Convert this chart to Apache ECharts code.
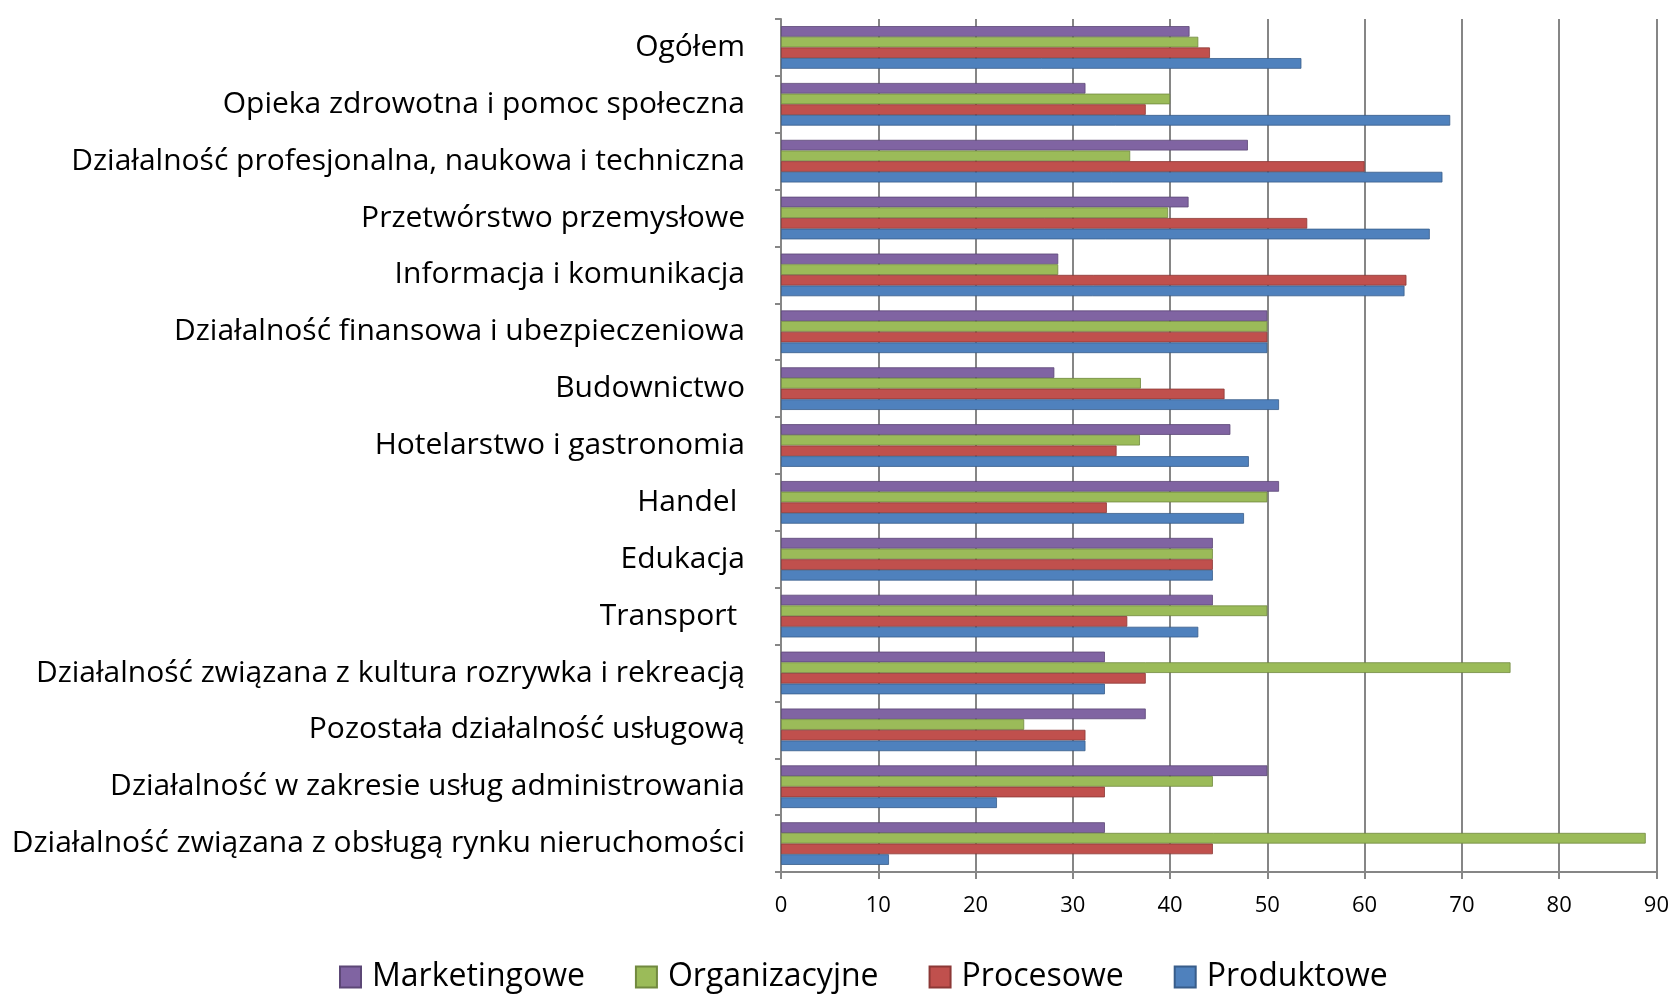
<!DOCTYPE html>
<html lang="pl">
<head>
    <meta charset="UTF-8">
    <title>Innowacje wg sekcji</title>
    <script type="text/javascript" src="https://cdn.jsdelivr.net/npm/echarts@6.0.0/dist/echarts.min.js"></script>
    <style type="text/css">
        html, body {
            margin: 0;
            padding: 0;
            height: 100%;
            width: 100%;
            background: #fff;
        }
        #echarts {
            height: 995px;
            width: 1672px;
        }
    </style>
</head>
<body>

<div id="echarts"></div>

<script type="text/javascript">
    // categories top to bottom, as in the picture
    var categories = [
        'Ogółem',
        'Opieka zdrowotna i pomoc społeczna',
        'Działalność profesjonalna, naukowa i techniczna',
        'Przetwórstwo przemysłowe',
        'Informacja i komunikacja',
        'Działalność finansowa i ubezpieczeniowa',
        'Budownictwo',
        'Hotelarstwo i gastronomia',
        'Handel ',
        'Edukacja',
        'Transport ',
        'Działalność związana z kultura rozrywka i rekreacją',
        'Pozostała działalność usługową',
        'Działalność w zakresie usług administrowania',
        'Działalność związana z obsługą rynku nieruchomości'
    ];

    var marketingowe  = [42.0, 31.3, 48.0, 41.9, 28.5, 50.0, 28.1, 46.2, 51.2, 44.4, 44.4, 33.3, 37.5, 50.0, 33.3];
    var organizacyjne = [42.9, 40.0, 35.9, 39.8, 28.5, 50.0, 37.0, 36.9, 50.0, 44.4, 50.0, 75.0, 25.0, 44.4, 88.9];
    var procesowe     = [44.1, 37.5, 60.0, 54.1, 64.3, 50.0, 45.6, 34.5, 33.5, 44.4, 35.6, 37.5, 31.3, 33.3, 44.4];
    var produktowe    = [53.5, 68.8, 68.0, 66.7, 64.1, 50.0, 51.2, 48.1, 47.6, 44.4, 42.9, 33.3, 31.3, 22.2, 11.1];

    var xTicks = [0, 10, 20, 30, 40, 50, 60, 70, 80, 90];

    var myChart = echarts.init(document.getElementById('echarts'));

    // the axis runs bottom to top, so reverse everything once here
    function rev(a) { return a.slice().reverse(); }

    function bar(name, data, color, edge) {
        return {
            name: name,
            type: 'bar',
            data: rev(data),
            barGap: '0%',
            barCategoryGap: '25%',
            itemStyle: {
                color: color,
                borderColor: edge,
                borderWidth: 0.8
            },
            animation: false
        };
    }

    var option = {
        textStyle: { fontFamily: 'Open Sans' },
        grid: {
            left: 781,
            right: 8,
            top: 19,
            bottom: 123
        },
        legend: {
            data: ['Marketingowe', 'Organizacyjne', 'Procesowe', 'Produktowe'],
            left: 334,
            top: 956,
            itemWidth: 21,
            itemHeight: 21,
            itemGap: 50,
            icon: 'rect',
            textStyle: {
                fontFamily: 'Open Sans',
                fontSize: 32,
                color: '#000',
                padding: [0, 0, 0, 6]
            }
        },
        xAxis: {
            type: 'value',
            min: xTicks[0],
            max: xTicks[xTicks.length - 1],
            interval: 10,
            axisLine: { show: true, lineStyle: { color: '#868686', width: 2 } },
            axisTick: { show: true, length: 7, lineStyle: { color: '#868686', width: 2 } },
            axisLabel: {
                color: '#000',
                fontSize: 22,
                margin: 23,
                fontFamily: 'Open Sans'
            },
            splitLine: { show: true, lineStyle: { color: '#868686', width: 2 } }
        },
        yAxis: {
            type: 'category',
            data: rev(categories),
            axisLine: { show: true, lineStyle: { color: '#868686', width: 2 } },
            axisTick: { show: true, length: 6, lineStyle: { color: '#868686', width: 2 } },
            axisLabel: {
                color: '#000',
                fontSize: 30,
                margin: 36,
                padding: [7, 0, 0, 0],
                fontFamily: 'Open Sans'
            }
        },
        series: [
            bar('Marketingowe', marketingowe, '#8064A2', '#5C4776'),
            bar('Organizacyjne', organizacyjne, '#9BBB59', '#71893F'),
            bar('Procesowe', procesowe, '#C0504D', '#8C3836'),
            bar('Produktowe', produktowe, '#4F81BD', '#385D8A')
        ]
    };

    myChart.setOption(option);
</script>

</body>
</html>
